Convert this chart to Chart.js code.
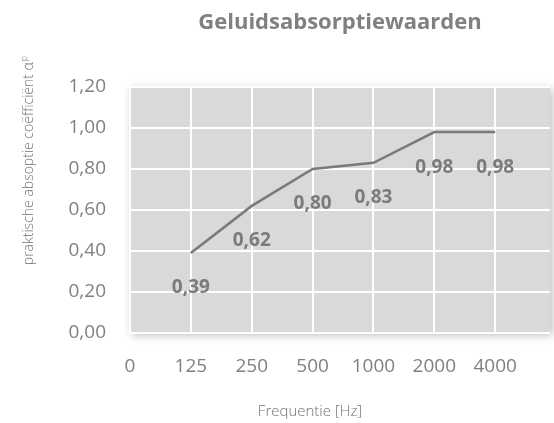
<!DOCTYPE html>
<html>
<head>
<meta charset="utf-8">
<script src="https://cdn.jsdelivr.net/npm/chart.js@4.4.1/dist/chart.umd.min.js"></script>
<style>
  html, body { margin: 0; padding: 0; background: #ffffff; }
  canvas { display: block; }
</style>
</head>
<body>
<canvas id="grafiek" width="554" height="423"></canvas>
<script>
// Gegevens van de grafiek
const frequenties = ["125", "250", "500", "1000", "2000", "4000"];
const absorptie = [0.39, 0.62, 0.80, 0.83, 0.98, 0.98];
const xTickLabels = ["0", "125", "250", "500", "1000", "2000", "4000"];

const titel = "Geluidsabsorptiewaarden";
const xTitel = "Frequentie [Hz]";
const yTitel = "praktische absoptie coëfficiënt α";
const yTitelSub = "p";

const lettertype = "'Open Sans', 'DejaVu Sans', sans-serif";

function komma(v) {
    return v.toFixed(2).replace(".", ",");
}

// Grijze achtergrond met schaduw achter het plotgebied
const achtergrond = {
    id: "achtergrond",
    beforeDraw(chart) {
        const { ctx, chartArea: a } = chart;
        ctx.save();
        ctx.shadowColor = "rgba(0,0,0,0.28)";
        ctx.shadowBlur = 9;
        ctx.shadowOffsetX = 2;
        ctx.shadowOffsetY = 2;
        ctx.fillStyle = "#d9d9d9";
        ctx.fillRect(a.left, a.top, a.right - a.left, a.bottom - a.top);
        ctx.restore();
    }
};

// Titels en waardelabels
const teksten = {
    id: "teksten",
    afterDatasetsDraw(chart) {
        const { ctx, chartArea: a } = chart;
        const meta = chart.getDatasetMeta(0);
        ctx.save();
        ctx.fillStyle = "#7b7b7b";
        ctx.font = "bold 19px " + lettertype;
        ctx.textAlign = "center";
        ctx.textBaseline = "middle";
        meta.data.forEach(function (punt, i) {
            ctx.fillText(komma(absorptie[i]), punt.x, punt.y + 35);
        });

        // hoofdtitel
        ctx.fillStyle = "#808080";
        ctx.font = "bold 22px " + lettertype;
        ctx.fillText(titel, (a.left + a.right) / 2, 23);

        // x-as titel
        ctx.fillStyle = "#737373";
        ctx.font = "300 15px " + lettertype;
        ctx.fillText(xTitel, 310, 412);

        // y-as titel, gedraaid
        ctx.translate(29, 161);
        ctx.rotate(-Math.PI / 2);
        ctx.font = "300 14px " + lettertype;
        const w1 = ctx.measureText(yTitel).width;
        ctx.font = "300 9px " + lettertype;
        const w2 = ctx.measureText(yTitelSub).width;
        const start = -(w1 + w2) / 2;
        ctx.textAlign = "left";
        ctx.font = "300 14px " + lettertype;
        ctx.fillText(yTitel, start, 0);
        ctx.font = "300 9px " + lettertype;
        ctx.fillText(yTitelSub, start + w1 + 1, -5);
        ctx.restore();
    }
};

const ctx = document.getElementById("grafiek").getContext("2d");
new Chart(ctx, {
    type: "line",
    data: {
        datasets: [{
            data: absorptie.map(function (v, i) { return { x: i + 1, y: v }; }),
            borderColor: "#7a7a7a",
            borderWidth: 2.5,
            pointRadius: 0,
            tension: 0
        }]
    },
    options: {
        responsive: false,
        animation: false,
        devicePixelRatio: 1,
        layout: { padding: { top: 87, right: 4, bottom: 0, left: 0 } },
        plugins: {
            legend: { display: false },
            tooltip: { enabled: false }
        },
        scales: {
            x: {
                type: "linear",
                min: 0,
                max: 6.9,
                afterBuildTicks(scale) {
                    scale.ticks = xTickLabels.map(function (l, i) { return { value: i }; });
                },
                afterFit(scale) { scale.height = 90; },
                grid: { color: "#ffffff", lineWidth: 2, drawTicks: false },
                border: { display: false },
                ticks: {
                    padding: 22,
                    color: "#808080",
                    font: { family: lettertype, size: 19 },
                    callback: function (v) { return xTickLabels[v]; }
                }
            },
            y: {
                min: 0,
                max: 1.2,
                afterFit(scale) { scale.width = 130; },
                grid: { color: "#ffffff", lineWidth: 2, drawTicks: false },
                border: { display: false },
                ticks: {
                    stepSize: 0.2,
                    padding: 24,
                    color: "#808080",
                    font: { family: lettertype, size: 19 },
                    callback: function (v) { return komma(v); }
                }
            }
        }
    },
    plugins: [achtergrond, teksten]
});
</script>
</body>
</html>
